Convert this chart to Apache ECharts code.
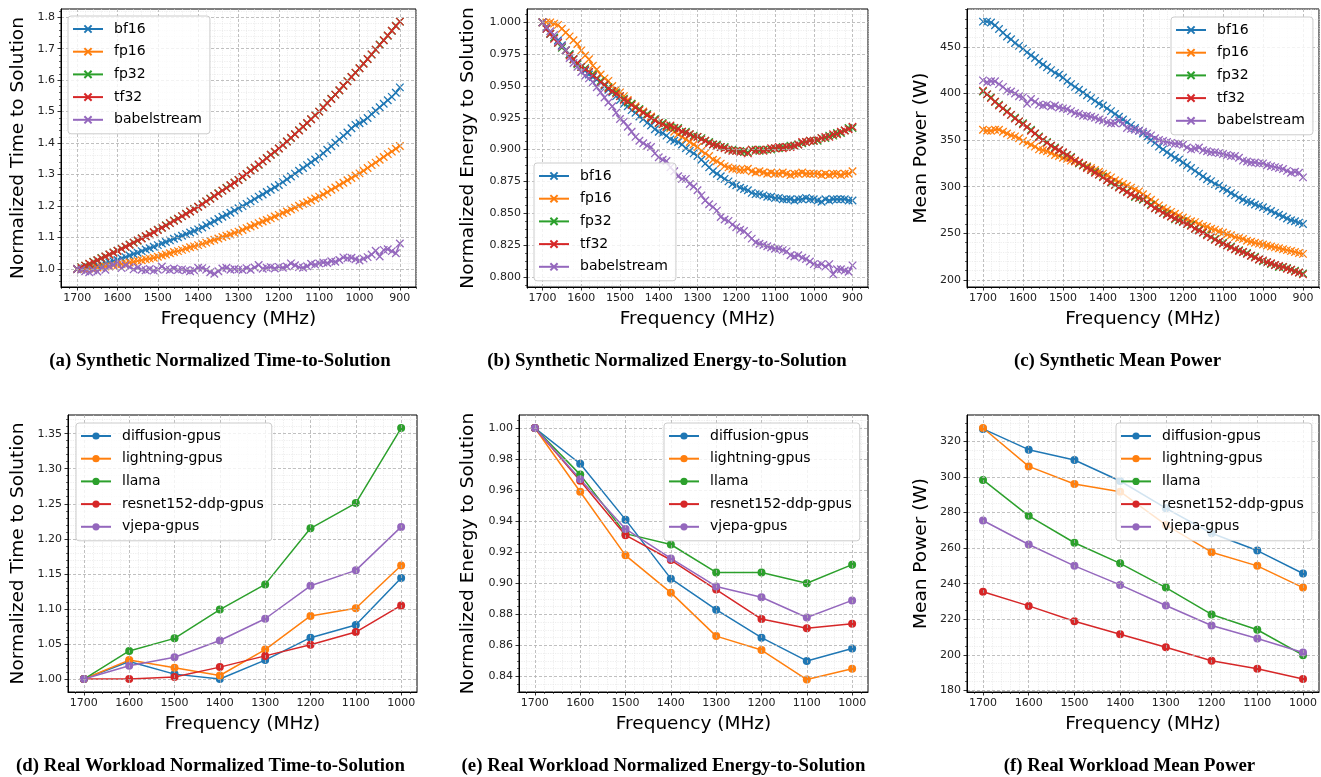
<!DOCTYPE html>
<html><head><meta charset="utf-8">
<script src="https://cdn.jsdelivr.net/npm/echarts@6/dist/echarts.min.js"></script>
<style>html,body{margin:0;padding:0;background:#fff}#c{width:1321px;height:777px}</style>
</head><body><div id="c"></div>
<script>
// ---------------- DATA ----------------
const synFreq = [
 1700,1690,1680,1670,1660,1650,1640,1630,1620,1610,
 1600,1590,1580,1570,1560,1550,1540,1530,1520,1510,
 1500,1490,1480,1470,1460,1450,1440,1430,1420,1410,
 1400,1390,1380,1370,1360,1350,1340,1330,1320,1310,
 1300,1290,1280,1270,1260,1250,1240,1230,1220,1210,
 1200,1190,1180,1170,1160,1150,1140,1130,1120,1110,
 1100,1090,1080,1070,1060,1050,1040,1030,1020,1010,
 1000,990,980,970,960,950,940,930,920,910,
 900];
const synNames = ['bf16','fp16','fp32','tf32','babelstream'];

// (a) normalized time-to-solution
const timeBf16 = [
 1.000,1.001,1.003,1.005,1.008,1.011,1.014,1.018,1.021,1.025,
 1.029,1.034,1.038,1.043,1.048,1.052,1.057,1.062,1.066,1.071,
 1.076,1.081,1.086,1.091,1.096,1.101,1.106,1.111,1.116,1.121,
 1.126,1.132,1.139,1.146,1.152,1.159,1.166,1.172,1.179,1.186,
 1.193,1.200,1.207,1.215,1.222,1.230,1.237,1.245,1.252,1.260,
 1.267,1.276,1.285,1.294,1.303,1.312,1.321,1.330,1.339,1.348,
 1.357,1.368,1.379,1.390,1.401,1.412,1.423,1.434,1.447,1.458,
 1.463,1.470,1.480,1.492,1.503,1.514,1.525,1.536,1.547,1.560,
 1.577];
const timeFp16 = [
 1.000,1.000,1.001,1.002,1.003,1.005,1.006,1.008,1.009,1.011,
 1.013,1.016,1.018,1.021,1.023,1.026,1.028,1.031,1.033,1.036,
 1.039,1.043,1.046,1.050,1.054,1.057,1.061,1.065,1.069,1.072,
 1.076,1.080,1.084,1.089,1.093,1.097,1.102,1.106,1.110,1.115,
 1.119,1.124,1.130,1.135,1.140,1.146,1.151,1.156,1.161,1.167,
 1.172,1.178,1.183,1.189,1.195,1.201,1.207,1.212,1.218,1.224,
 1.230,1.237,1.244,1.252,1.259,1.267,1.274,1.282,1.289,1.297,
 1.304,1.312,1.321,1.330,1.338,1.347,1.356,1.365,1.373,1.382,
 1.391];
const timeFp32 = [
 1.000,1.006,1.011,1.016,1.023,1.028,1.035,1.040,1.046,1.053,
 1.058,1.065,1.071,1.078,1.084,1.090,1.098,1.104,1.111,1.117,
 1.125,1.131,1.139,1.146,1.154,1.160,1.168,1.176,1.183,1.191,
 1.198,1.207,1.215,1.224,1.232,1.241,1.249,1.258,1.266,1.275,
 1.283,1.292,1.302,1.313,1.322,1.331,1.342,1.353,1.363,1.372,
 1.383,1.395,1.405,1.416,1.428,1.441,1.452,1.463,1.476,1.489,
 1.500,1.514,1.527,1.541,1.554,1.567,1.582,1.597,1.610,1.623,
 1.638,1.653,1.667,1.681,1.697,1.713,1.727,1.741,1.757,1.773,
 1.786];
const timeTf32 = [
 1.000,1.005,1.011,1.017,1.022,1.028,1.034,1.040,1.046,1.052,
 1.058,1.064,1.071,1.077,1.084,1.091,1.097,1.104,1.110,1.117,
 1.124,1.131,1.138,1.146,1.153,1.160,1.168,1.175,1.183,1.190,
 1.198,1.206,1.215,1.223,1.232,1.240,1.249,1.257,1.266,1.274,
 1.283,1.293,1.302,1.312,1.322,1.332,1.342,1.352,1.363,1.373,
 1.383,1.394,1.405,1.417,1.428,1.440,1.452,1.464,1.476,1.488,
 1.500,1.513,1.527,1.540,1.554,1.568,1.582,1.596,1.610,1.624,
 1.638,1.652,1.667,1.682,1.697,1.712,1.727,1.742,1.757,1.772,
 1.786];
const timeBabel = [
 1.000,0.998,0.993,0.990,0.996,0.992,1.003,0.998,1.008,1.013,
 1.022,1.003,1.012,1.006,0.999,1.005,0.998,0.996,1.000,0.995,
 0.998,1.008,0.999,0.997,1.002,0.997,0.999,0.996,0.993,0.996,
 1.004,1.003,0.998,0.990,0.985,0.993,1.002,1.004,0.998,1.000,
 0.999,0.997,1.003,0.998,1.005,1.013,1.001,1.004,1.006,1.002,
 1.007,1.004,1.008,1.018,1.012,1.006,1.004,1.009,1.017,1.014,
 1.018,1.021,1.019,1.025,1.023,1.029,1.037,1.034,1.036,1.031,
 1.027,1.033,1.038,1.046,1.058,1.040,1.061,1.063,1.057,1.050,
 1.081];

// (b) normalized energy-to-solution
const energyBf16 = [
 1.000,0.995,0.991,0.988,0.986,0.982,0.978,0.975,0.971,0.968,
 0.965,0.962,0.959,0.957,0.955,0.953,0.950,0.947,0.945,0.942,
 0.939,0.936,0.934,0.931,0.929,0.926,0.924,0.921,0.919,0.916,
 0.914,0.913,0.911,0.908,0.907,0.906,0.904,0.901,0.899,0.897,
 0.895,0.892,0.889,0.886,0.883,0.881,0.879,0.877,0.875,0.873,
 0.872,0.870,0.869,0.868,0.866,0.865,0.865,0.864,0.863,0.863,
 0.862,0.862,0.861,0.861,0.861,0.860,0.861,0.861,0.862,0.861,
 0.861,0.860,0.859,0.861,0.860,0.861,0.861,0.861,0.861,0.860,
 0.860];
const energyFp16 = [
 1.000,1.000,1.000,0.999,0.998,0.995,0.992,0.989,0.986,0.983,
 0.978,0.974,0.971,0.966,0.963,0.959,0.956,0.954,0.950,0.947,
 0.945,0.942,0.939,0.936,0.934,0.931,0.930,0.927,0.926,0.923,
 0.921,0.920,0.918,0.917,0.914,0.912,0.910,0.908,0.906,0.904,
 0.902,0.899,0.897,0.895,0.892,0.891,0.889,0.887,0.886,0.885,
 0.885,0.884,0.884,0.885,0.883,0.882,0.883,0.882,0.881,0.882,
 0.881,0.881,0.882,0.881,0.880,0.881,0.881,0.882,0.881,0.881,
 0.881,0.881,0.880,0.881,0.880,0.881,0.881,0.880,0.881,0.881,
 0.883];
const energyFp32 = [
 1.000,0.996,0.991,0.988,0.984,0.980,0.978,0.975,0.971,0.967,
 0.965,0.964,0.961,0.959,0.956,0.954,0.951,0.949,0.946,0.945,
 0.942,0.940,0.937,0.936,0.933,0.932,0.929,0.928,0.925,0.924,
 0.921,0.921,0.919,0.918,0.917,0.917,0.914,0.914,0.912,0.911,
 0.910,0.909,0.907,0.906,0.904,0.904,0.902,0.902,0.900,0.900,
 0.899,0.899,0.898,0.898,0.900,0.900,0.899,0.900,0.900,0.900,
 0.901,0.901,0.902,0.902,0.903,0.903,0.904,0.905,0.906,0.907,
 0.907,0.907,0.909,0.909,0.911,0.911,0.913,0.913,0.915,0.917,
 0.917];
const energyTf32 = [
 1.000,0.995,0.991,0.987,0.984,0.981,0.978,0.974,0.971,0.968,
 0.965,0.963,0.961,0.958,0.956,0.953,0.951,0.948,0.946,0.944,
 0.942,0.939,0.938,0.935,0.933,0.931,0.929,0.927,0.925,0.923,
 0.921,0.920,0.918,0.919,0.917,0.916,0.914,0.913,0.912,0.910,
 0.910,0.908,0.907,0.905,0.904,0.903,0.902,0.901,0.900,0.899,
 0.899,0.898,0.899,0.897,0.900,0.899,0.900,0.899,0.900,0.901,
 0.901,0.902,0.901,0.902,0.902,0.903,0.904,0.906,0.906,0.907,
 0.907,0.908,0.909,0.910,0.910,0.912,0.912,0.914,0.915,0.916,
 0.918];
const energyBabel = [
 1.000,0.996,0.993,0.990,0.985,0.981,0.978,0.972,0.968,0.965,
 0.961,0.958,0.956,0.953,0.949,0.945,0.941,0.937,0.934,0.929,
 0.924,0.922,0.918,0.914,0.910,0.907,0.905,0.903,0.902,0.897,
 0.894,0.892,0.891,0.886,0.883,0.879,0.877,0.877,0.873,0.871,
 0.868,0.864,0.860,0.857,0.855,0.852,0.847,0.845,0.844,0.841,
 0.839,0.837,0.836,0.833,0.830,0.827,0.826,0.825,0.824,0.823,
 0.822,0.822,0.821,0.820,0.817,0.816,0.817,0.815,0.814,0.812,
 0.810,0.809,0.810,0.808,0.810,0.802,0.806,0.806,0.805,0.804,
 0.809];

// (c) mean power (W)
const powerBf16 = [
 477,477,476,473,469,465,461,458,454,451,
 448,444,441,438,434,431,428,425,422,420,
 417,413,410,407,404,401,398,395,392,389,
 387,384,381,378,375,372,369,366,363,360,
 357,353,350,347,343,340,337,334,331,329,
 326,323,320,317,314,311,308,306,303,301,
 298,296,293,291,288,286,284,283,281,279.5,
 278,276,274,272,270,268,266,264,263,261.5,
 260];
const powerFp16 = [
 361,360,360,361,361,359,357,355,354,352,
 349,347,345,343,340,339,338,336,334,333,
 331,330,328,327,325,323,322,320,318,316,
 314,312,310,307,305,303,301,299,297,295,
 292,289,286,283,280,277,275,273,271,269,
 267,265,263,262,260,258,257,255,254,252,
 251,249,248,246,245,244,242,241,240,239,
 238,237,236,235,234,233,232,231,230,229,
 228];
const powerFp32 = [
 402,399,396,391,388,384,381,377,374,370,
 368,364,361,357,354,350,348,344,342,339,
 336,334,332,328,325,323,321,318,316,313,
 311,307,304,302,300,297,295,292,289,288,
 286,283,281,277,276,272,271,268,265,264,
 263,260,259,255,254,251,249,246,244,241,
 240,237,236,233,232,230,229,226,225,222,
 220,219,217,216,214,214,213,211,210,208,
 207];
const powerTf32 = [
 403,399,395,391,387,384,380,377,373,370,
 367,364,360,357,353,350,347,344,341,339,
 337,334,331,328,326,323,320,318,315,313,
 310,307,305,302,299,297,294,292,290,288,
 287,283,280,277,275,272,270,268,266,264,
 262,260,258,255,253,251,248,246,243,241,
 239,237,235,233,231,230,228,226,224,222,
 221,219,218,216,215,214,212,211,209,208,
 206];
const powerBabel = [
 414,412,413,413,410,407,403,402,400,397,
 396,389,394,391,388,387,388,386,387,385,
 384,383,381,379,378,376,376,375,374,372,
 371,369,368,368,371,368,363,362,361,360,
 359,357,355,352,350,349,348,347,346,346,
 345,342,340,341,342,339,338,337,337,336,
 335,334,333,333,331,328,327,326,326,325,
 325,323,322,321,320,319,317,315,316,315,
 310];

// Real workloads
const realFreq = [1700,1600,1500,1400,1300,1200,1100,1000];
const realNames = ['diffusion-gpus','lightning-gpus','llama','resnet152-ddp-gpus','vjepa-gpus'];
const realTimeDiffusion = [1.000,1.025,1.007,1.000,1.027,1.059,1.077,1.144];
const realTimeLightning = [1.000,1.027,1.016,1.005,1.042,1.090,1.101,1.162];
const realTimeLlama     = [1.000,1.040,1.058,1.099,1.135,1.215,1.251,1.358];
const realTimeResnet    = [1.000,1.000,1.003,1.017,1.033,1.049,1.067,1.105];
const realTimeVjepa     = [1.000,1.019,1.031,1.055,1.086,1.133,1.155,1.217];
const realEnergyDiffusion = [1.000,0.977,0.941,0.903,0.883,0.865,0.850,0.858];
const realEnergyLightning = [1.000,0.959,0.918,0.894,0.866,0.857,0.838,0.845];
const realEnergyLlama     = [1.000,0.970,0.932,0.925,0.907,0.907,0.900,0.912];
const realEnergyResnet    = [1.000,0.966,0.931,0.915,0.896,0.877,0.871,0.874];
const realEnergyVjepa     = [1.000,0.967,0.935,0.916,0.898,0.891,0.878,0.889];
const realPowerDiffusion = [327.0,315.3,309.5,297.7,282.4,268.3,258.6,245.7];
const realPowerLightning = [327.5,305.9,296.0,291.7,273.0,257.7,250.0,237.8];
const realPowerLlama     = [298.3,278.1,263.0,251.4,237.8,222.7,214.1,199.8];
const realPowerResnet    = [235.4,227.5,218.9,211.6,204.3,196.7,192.2,186.4];
const realPowerVjepa     = [275.5,262.0,250.0,239.3,227.7,216.5,209.2,201.3];

// Tick labels
const synXTicks  = [1700,1600,1500,1400,1300,1200,1100,1000,900];
const realXTicks = [1700,1600,1500,1400,1300,1200,1100,1000];
const yTicksA = [1.0,1.1,1.2,1.3,1.4,1.5,1.6,1.7,1.8];
const yTicksB = [0.800,0.825,0.850,0.875,0.900,0.925,0.950,0.975,1.000];
const yTicksC = [200,250,300,350,400,450];
const yTicksD = [1.00,1.05,1.10,1.15,1.20,1.25,1.30,1.35];
const yTicksE = [0.84,0.86,0.88,0.90,0.92,0.94,0.96,0.98,1.00];
const yTicksF = [180,200,220,240,260,280,300,320];

const captions = [
 '(a) Synthetic Normalized Time-to-Solution',
 '(b) Synthetic Normalized Energy-to-Solution',
 '(c) Synthetic Mean Power',
 '(d) Real Workload Normalized Time-to-Solution',
 '(e) Real Workload Normalized Energy-to-Solution',
 '(f) Real Workload Mean Power'];
const yTitles = ['Normalized Time to Solution','Normalized Energy to Solution','Mean Power (W)',
 'Normalized Time to Solution','Normalized Energy to Solution','Mean Power (W)'];
const xTitle = 'Frequency (MHz)';

// ---------------- STYLE / LAYOUT ----------------
const COLORS = ['#1f77b4','#ff7f0e','#2ca02c','#d62728','#9467bd'];
const FONT = 'DejaVu Sans';
const X_SYMBOL = 'path://M0,0L10,10M10,0L0,10';

const panels = [
 {grid:{left:61,top:9,width:355,height:278}, x:[860,1740], xT:synXTicks, xm:20, y:[0.943,1.826], yT:yTicksA, ym:0.02, dec:1,
  legend:{left:68,top:16}},
 {grid:{left:527,top:9,width:341,height:278}, x:[860,1740], xT:synXTicks, xm:20, y:[0.792,1.0105], yT:yTicksB, ym:0.00625, dec:3,
  legend:{left:534,top:163}},
 {grid:{left:967,top:9,width:352,height:278}, x:[860,1740], xT:synXTicks, xm:20, y:[192.5,490.5], yT:yTicksC, ym:10, dec:0,
  legend:{left:1171,top:17}},
 {grid:{left:68,top:415,width:349,height:277}, x:[965,1735], xT:realXTicks, xm:20, y:[0.9815,1.3766], yT:yTicksD, ym:0.01, dec:2,
  legend:{left:76,top:423}},
 {grid:{left:519,top:415,width:349,height:277}, x:[965,1735], xT:realXTicks, xm:20, y:[0.830,1.0084], yT:yTicksE, ym:0.005, dec:2,
  legend:{left:664,top:423}},
 {grid:{left:967,top:415,width:352,height:277}, x:[965,1735], xT:realXTicks, xm:20, y:[179.1,334.8], yT:yTicksF, ym:5, dec:0,
  legend:{left:1116,top:423}}
];

const synData = [
 [timeBf16,timeFp16,timeFp32,timeTf32,timeBabel],
 [energyBf16,energyFp16,energyFp32,energyTf32,energyBabel],
 [powerBf16,powerFp16,powerFp32,powerTf32,powerBabel]];
const realData = [
 [realTimeDiffusion,realTimeLightning,realTimeLlama,realTimeResnet,realTimeVjepa],
 [realEnergyDiffusion,realEnergyLightning,realEnergyLlama,realEnergyResnet,realEnergyVjepa],
 [realPowerDiffusion,realPowerLightning,realPowerLlama,realPowerResnet,realPowerVjepa]];

function minorValues(lo, hi, step, majors) {
  const out = [];
  for (let k = Math.ceil(lo / step - 1e-9); k * step <= hi + 1e-9; k++) {
    const v = +(k * step).toFixed(6);
    if (!majors.some(m => Math.abs(m - v) < step * 1e-3)) out.push(v);
  }
  return out;
}

const grids = [], xAxes = [], yAxes = [], series = [], legends = [], graphics = [];
const MAJOR_GRID = {show:true, lineStyle:{color:'#b0b0b0', width:0.8, type:[3,2]}};
const MINOR_GRID = {show:true, lineStyle:{color:'#e2e2e2', width:0.6, type:[1.2,1.2]}};

panels.forEach((p, g) => {
  grids.push(Object.assign({show:true, borderColor:'#000', borderWidth:1, backgroundColor:'#fff', containLabel:false}, p.grid));
  const xMinor = minorValues(p.x[0], p.x[1], p.xm, p.xT);
  const yMinor = minorValues(p.y[0], p.y[1], p.ym, p.yT);
  xAxes.push({type:'value', gridIndex:g, min:p.x[0], max:p.x[1], inverse:true, position:'bottom', z:3,
    axisLine:{show:true, onZero:false, lineStyle:{color:'#000', width:1}},
    axisTick:{show:true, customValues:p.xT, length:3.5, lineStyle:{color:'#000', width:0.8}},
    axisLabel:{show:true, customValues:p.xT, fontFamily:FONT, fontSize:11, color:'#222', margin:6, formatter:v=>String(Math.round(v))},
    splitLine:MAJOR_GRID});
  xAxes.push({type:'value', gridIndex:g, min:p.x[0], max:p.x[1], inverse:true, position:'bottom', z:2,
    axisLine:{show:false}, axisLabel:{show:false},
    axisTick:{show:true, customValues:xMinor, length:2, lineStyle:{color:'#000', width:0.6}},
    splitLine:MINOR_GRID});
  yAxes.push({type:'value', gridIndex:g, min:p.y[0], max:p.y[1], position:'left', z:3,
    axisLine:{show:true, onZero:false, lineStyle:{color:'#000', width:1}},
    axisTick:{show:true, customValues:p.yT, length:3.5, lineStyle:{color:'#000', width:0.8}},
    axisLabel:{show:true, customValues:p.yT, fontFamily:FONT, fontSize:11, color:'#222', margin:6, formatter:v=>v.toFixed(p.dec)},
    splitLine:MAJOR_GRID});
  yAxes.push({type:'value', gridIndex:g, min:p.y[0], max:p.y[1], position:'left', z:2,
    axisLine:{show:false}, axisLabel:{show:false},
    axisTick:{show:true, customValues:yMinor, length:2, lineStyle:{color:'#000', width:0.6}},
    splitLine:MINOR_GRID});

  const isSyn = g < 3;
  const names = isSyn ? synNames : realNames;
  const freq = isSyn ? synFreq : realFreq;
  const sets = isSyn ? synData[g] : realData[g - 3];
  names.forEach((nm, k) => {
    const col = COLORS[k];
    series.push({
      type:'line', name:nm, xAxisIndex:2*g, yAxisIndex:2*g,
      data: freq.map((f, i) => [f, sets[k][i]]),
      symbol: isSyn ? X_SYMBOL : 'circle', symbolSize: isSyn ? 7.5 : 8,
      showSymbol:true, showAllSymbol:true, clip:false,
      lineStyle:{color:col, width:1.5},
      itemStyle: isSyn ? {color:col, borderColor:col, borderWidth:1.3} : {color:col, borderWidth:0},
      emphasis:{disabled:true}, silent:true, animation:false, z:2
    });
  });
  legends.push({show:true, left:p.legend.left, top:p.legend.top, orient:'vertical', data:names,
    itemWidth:30, itemHeight:9, itemGap:6.7, padding:[5,8,6,4], selectedMode:false,
    backgroundColor:'rgba(255,255,255,0.8)', borderColor:'#cccccc', borderWidth:1, borderRadius:3,
    textStyle:{fontFamily:FONT, fontSize:14, color:'#000', lineHeight:16, padding:[0,0,0,6]}, z:5});

  const cx = p.grid.left + p.grid.width / 2;
  const cy = p.grid.top + p.grid.height / 2;
  graphics.push({type:'text', x:cx, y:(g<3?319.5:724), silent:true,
    style:{text:xTitle, font:'18.5px "DejaVu Sans"', fill:'#000', textAlign:'center', textVerticalAlign:'middle'}});
  const yNameX = [18, 468, 921][g % 3];
  graphics.push({type:'text', x:yNameX, y:cy, rotation:Math.PI/2, silent:true,
    style:{text:yTitles[g], font:'18.5px "DejaVu Sans"', fill:'#000', textAlign:'center', textVerticalAlign:'middle'}});
  const capX = [220, 667, 1117.5, 210.5, 663.5, 1129.5][g];
  graphics.push({type:'text', x:capX, y:(g<3?361:766), silent:true,
    style:{text:captions[g], font:'bold 18.8px "Liberation Serif"', fill:'#000', textAlign:'center', textVerticalAlign:'middle'}});
});

const chart = echarts.init(document.getElementById('c'), null, {renderer:'canvas'});
chart.setOption({
  animation:false, backgroundColor:'#fff',
  grid:grids, xAxis:xAxes, yAxis:yAxes, series:series, legend:legends,
  graphic:graphics
});
</script>
</body></html>
